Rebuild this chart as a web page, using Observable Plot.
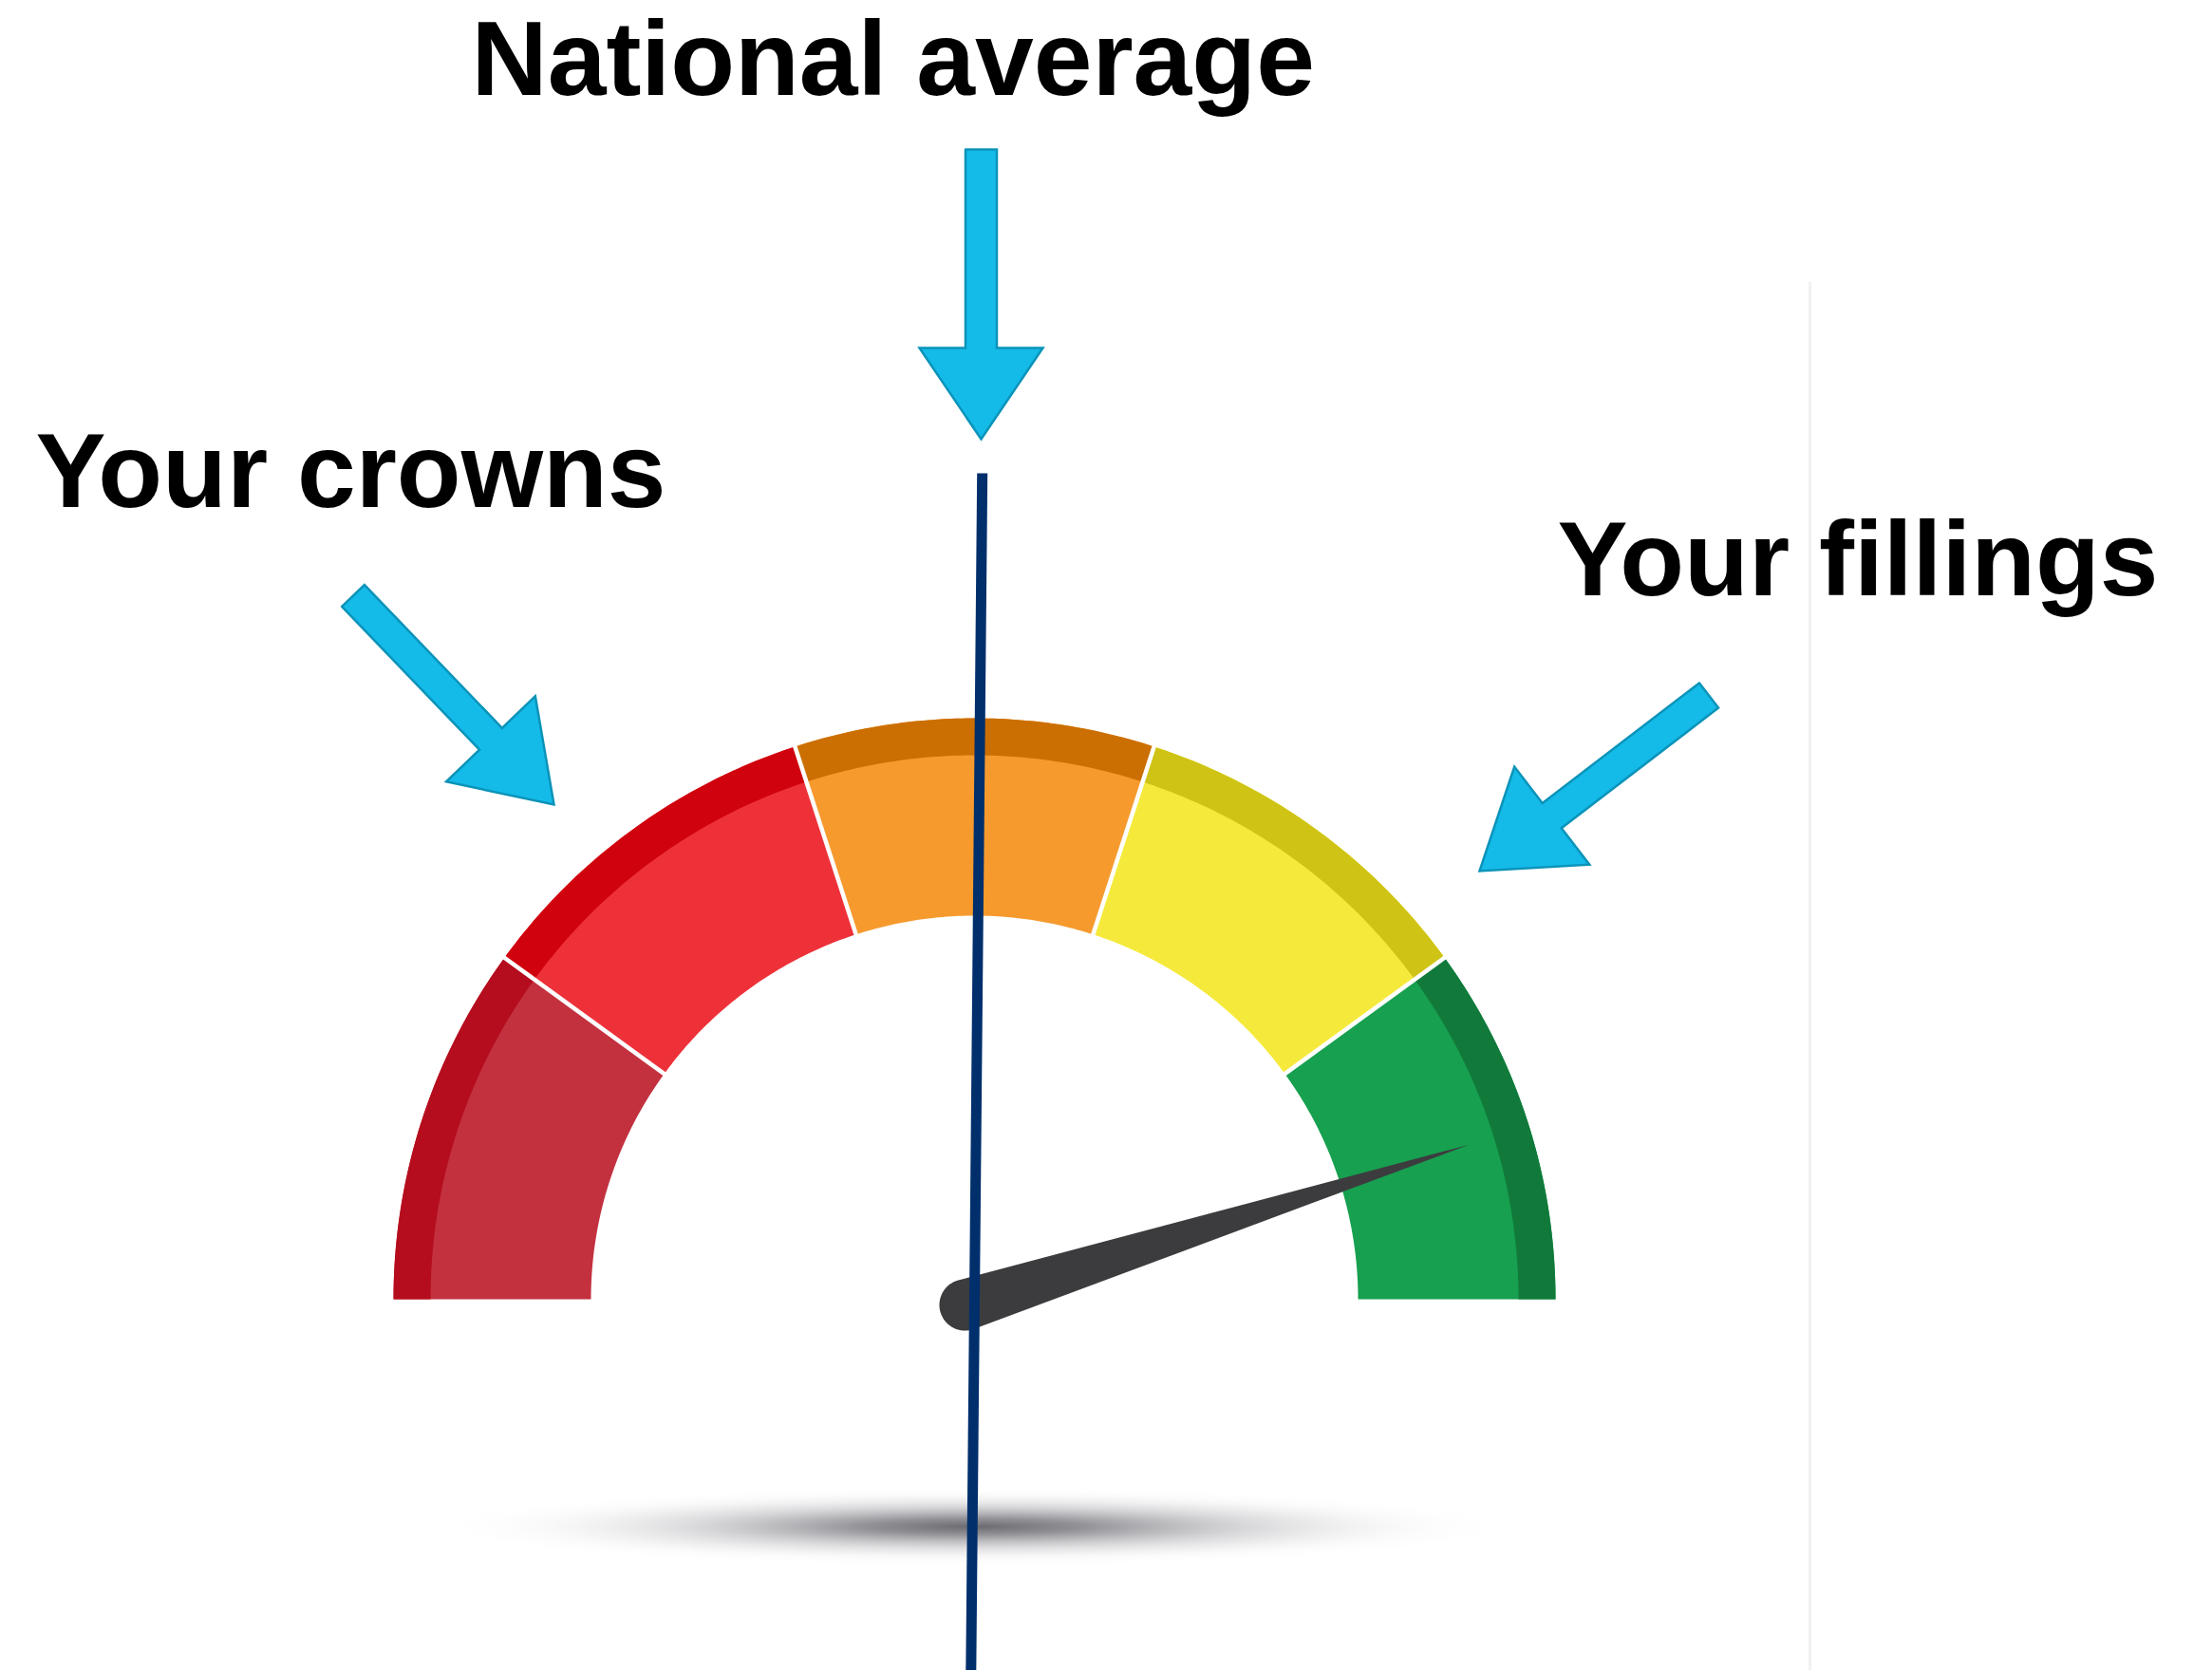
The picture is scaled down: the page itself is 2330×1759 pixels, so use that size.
<!DOCTYPE html>
<html><head><meta charset="utf-8">
<script src="https://cdn.jsdelivr.net/npm/d3@7"></script>
<script src="https://cdn.jsdelivr.net/npm/@observablehq/plot@0.6"></script>
<style>html,body{margin:0;padding:0;background:#fff;overflow:hidden} #chart svg{display:block}</style>
</head><body><div id="chart"></div>
<script>
// ---------- data ----------
const bandNames = ["Very poor", "Poor", "Average", "Good", "Very good"];
const bandStarts = [0, 20, 40, 60, 80];
const bandEnds = [20, 40, 60, 80, 100];
const bandColors = ["#c3313f", "#ee3139", "#f69a2e", "#f5ea3b", "#17a04f"];
const bandRimColors = ["#b50d1e", "#d0020e", "#cb6f02", "#cfc416", "#117a3b"];
const needleValue = 90.2;
const nationalAverage = 50.3;
const labels = ["National average", "Your crowns", "Your fillings"];

// ---------- layout ----------
const W = 2330, H = 1759;
const C = {x: 1026, y: 1368};
const R_OUT = 612, R_RIM = 573, R_IN = 404;
const PIVOT = {x: 1016, y: 1374};
const NEEDLE_LEN = 557, NEEDLE_R = 27;
const labelPos = [{x: 496, y: 99}, {x: 37, y: 533}, {x: 1640, y: 626}];
const arrowPos = [
  {tail: {x: 1033, y: 157}, tip: {x: 1033, y: 462}},
  {tail: {x: 371.5, y: 627}, tip: {x: 583, y: 847}},
  {tail: {x: 1799.5, y: 732}, tip: {x: 1558, y: 917}}
];

const angle = d3.scaleLinear().domain([0, 100]).range([Math.PI, 0]);
const polar = (v, r, c = C) => ({x: c.x + r * Math.cos(angle(v)), y: c.y - r * Math.sin(angle(v))});

function arcPoly(v0, v1, r0, r1) {
  const pts = [];
  const n = 60;
  for (let i = 0; i <= n; i++) pts.push(polar(v0 + (v1 - v0) * i / n, r1));
  for (let i = n; i >= 0; i--) pts.push(polar(v0 + (v1 - v0) * i / n, r0));
  pts.push(pts[0]);
  return pts;
}

function needlePoly(v) {
  const phi = angle(v);
  const pts = [];
  const n = 40;
  for (let i = 0; i <= n; i++) {
    const a = phi + Math.PI / 2 + Math.PI * i / n;
    pts.push({x: PIVOT.x + NEEDLE_R * Math.cos(a), y: PIVOT.y - NEEDLE_R * Math.sin(a)});
  }
  pts.push(polar(v, NEEDLE_LEN, PIVOT));
  pts.push(pts[0]);
  return pts;
}

function arrowPoly(tail, tip, sw = 33, hw = 130, hl = 96) {
  const dx = tip.x - tail.x, dy = tip.y - tail.y, L = Math.hypot(dx, dy);
  const d = {x: dx / L, y: dy / L}, nn = {x: -d.y, y: d.x};
  const B = {x: tip.x - d.x * hl, y: tip.y - d.y * hl};
  const p = (o, k) => ({x: o.x + nn.x * k, y: o.y + nn.y * k});
  const pts = [p(tail, sw / 2), p(B, sw / 2), p(B, hw / 2), tip, p(B, -hw / 2), p(B, -sw / 2), p(tail, -sw / 2)];
  pts.push(pts[0]);
  return pts;
}

const marks = [];
// faint border line
marks.push(Plot.ruleX([1906], {y1: 297, y2: H, stroke: "#f1f1f1", strokeWidth: 3}));
// shadow
marks.push(Plot.rect([{x1: 450, x2: 1600, y1: 1566, y2: 1650}], {x1: "x1", x2: "x2", y1: "y1", y2: "y2", fill: "url(#gaugeShadow)"}));
// gauge bands
bandNames.forEach((name, i) => {
  marks.push(Plot.line(arcPoly(bandStarts[i], bandEnds[i], R_IN, R_OUT), {x: "x", y: "y", fill: bandColors[i], stroke: "none", title: () => name}));
  marks.push(Plot.line(arcPoly(bandStarts[i], bandEnds[i], R_RIM, R_OUT), {x: "x", y: "y", fill: bandRimColors[i], stroke: "none"}));
});
// separators
const seps = bandStarts.slice(1).map(v => ({a: polar(v, R_IN - 6), b: polar(v, R_OUT + 6)}));
marks.push(Plot.link(seps, {x1: d => d.a.x, y1: d => d.a.y, x2: d => d.b.x, y2: d => d.b.y, stroke: "white", strokeWidth: 4.5}));
// needle
marks.push(Plot.line(needlePoly(needleValue), {x: "x", y: "y", fill: "#3c3c3f", stroke: "none"}));
// national average line
marks.push(Plot.link([{a: polar(nationalAverage, 870), b: polar(nationalAverage, -395)}],
  {x1: d => d.a.x, y1: d => d.a.y, x2: d => d.b.x, y2: d => d.b.y, stroke: "#002f6c", strokeWidth: 11, strokeLinecap: "butt"}));
// arrows
arrowPos.forEach(a => {
  marks.push(Plot.line(arrowPoly(a.tail, a.tip), {x: "x", y: "y", fill: "#14bbe8", stroke: "#0b93b9", strokeWidth: 2.5, strokeLinejoin: "miter", strokeMiterlimit: 10}));
});
// labels
marks.push(Plot.text(labels.map((t, i) => ({t, ...labelPos[i]})), {
  x: "x", y: "y", text: "t", textAnchor: "start", lineAnchor: "bottom",
  fontSize: 111, fontWeight: "bold", fontFamily: "Liberation Sans, Arial, sans-serif", fill: "black"
}));

const chart = Plot.plot({
  width: W, height: H, margin: 0,
  x: {domain: [0, W], range: [0, W], axis: null},
  y: {domain: [0, H], range: [0, H], axis: null},
  style: {background: "white"},
  marks
});

const svg = d3.select(chart);
const defs = svg.insert("defs", ":first-child");
const g = defs.append("radialGradient").attr("id", "gaugeShadow").attr("cx", "0.5").attr("cy", "0.5").attr("r", "0.5");
[[0, "#6a6a70", 1], [0.2, "#7e7e84", 0.85], [0.5, "#a8a8ad", 0.45], [0.8, "#d8d8da", 0.12], [1, "#ffffff", 0]].forEach(([o, c, op]) =>
  g.append("stop").attr("offset", o).attr("stop-color", c).attr("stop-opacity", op));

document.getElementById("chart").appendChild(chart);
</script>
</body></html>
